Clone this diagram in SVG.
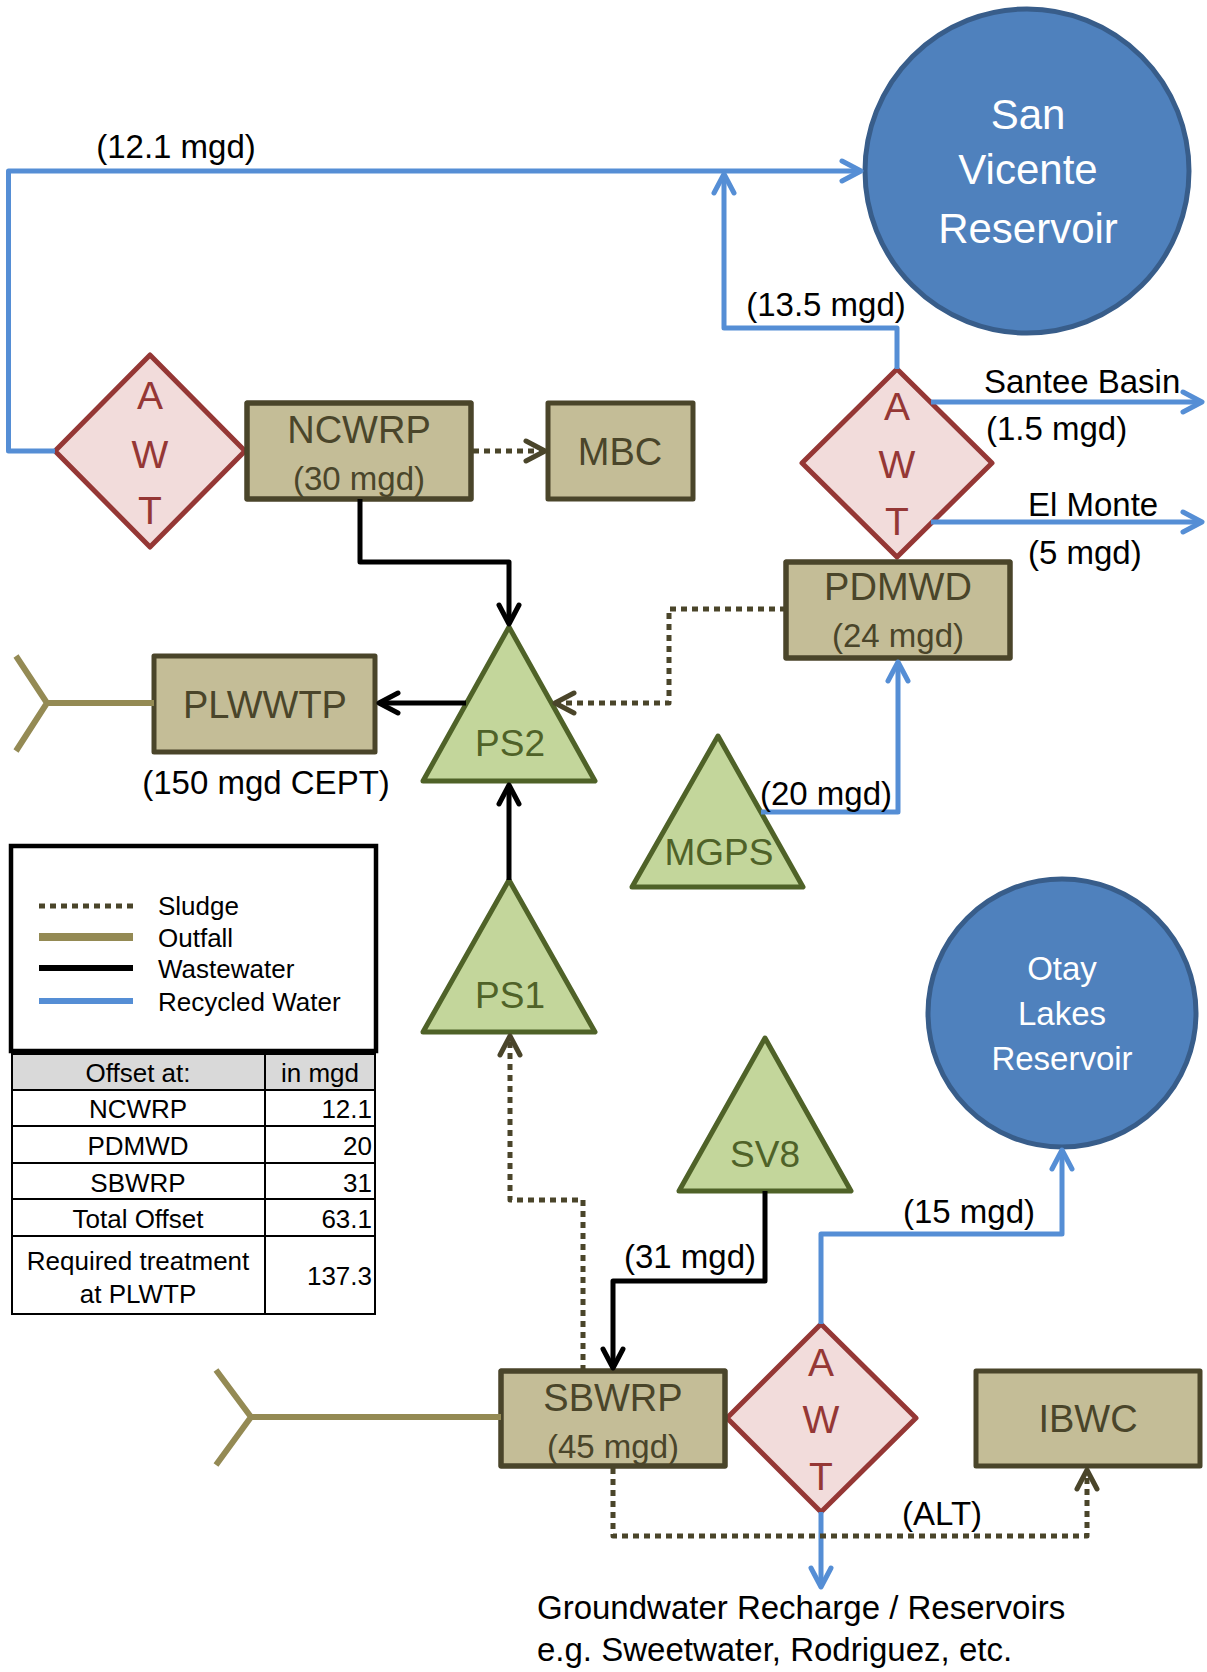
<svg xmlns="http://www.w3.org/2000/svg" width="1207" height="1672" viewBox="0 0 1207 1672">
<style>
text{font-family:'Liberation Sans',Arial,sans-serif}
.lbl{font-size:33px;fill:#000}
.bx{fill:#C4BD97;stroke:#4A452A;stroke-width:5;stroke-linejoin:round}
.bxo{fill:none;stroke:#4A452A;stroke-width:5;stroke-linejoin:round}
.bt{fill:#4A452A;font-size:38px;text-anchor:middle}
.bs{fill:#4A452A;font-size:33px;text-anchor:middle}
.tri{fill:#C3D69B;stroke:#4F6228;stroke-width:5;stroke-linejoin:round}
.tt{fill:#4F6228;font-size:37px;text-anchor:middle}
.dia{fill:#F2DCDB;stroke:#953735;stroke-width:5;stroke-linejoin:round}
.dt{fill:#953735;font-size:39px;text-anchor:middle}
.res{fill:#4F81BD;stroke:#385D8A;stroke-width:5}
.rt{fill:#fff;text-anchor:middle}
.c{fill:none;stroke-width:5;stroke-linejoin:round}
.blue{stroke:#558ED5}
.ww{stroke:#000}
.sl{stroke:#4A452A;stroke-dasharray:6 5}
.of{fill:none;stroke:#948A54;stroke-width:6}
.leg{font-size:26px;fill:#000}
.tb{font-size:26px;fill:#000}
.grid{fill:none;stroke:#000;stroke-width:2}
</style>
<defs>
<marker id="aBlue" markerUnits="userSpaceOnUse" orient="auto" refX="0" refY="0" markerWidth="30" markerHeight="30" overflow="visible">
<path d="M-19,-10 L0,0 L-19,10" fill="none" stroke="#558ED5" stroke-width="5" stroke-linecap="round" stroke-linejoin="round"/>
</marker>
<marker id="aBlack" markerUnits="userSpaceOnUse" orient="auto" refX="0" refY="0" markerWidth="30" markerHeight="30" overflow="visible">
<path d="M-19,-10 L0,0 L-19,10" fill="none" stroke="#000" stroke-width="5" stroke-linecap="round" stroke-linejoin="round"/>
</marker>
<marker id="aSl" markerUnits="userSpaceOnUse" orient="auto" refX="0" refY="0" markerWidth="30" markerHeight="30" overflow="visible">
<path d="M-19,-10 L0,0 L-19,10" fill="none" stroke="#4A452A" stroke-width="5" stroke-linecap="round" stroke-linejoin="round"/>
</marker>
</defs>
<rect width="1207" height="1672" fill="#fff"/>

<g id="sanvicente">
<circle class="res" cx="1027" cy="171" r="162"/>
<text class="rt" x="1028" y="129" font-size="42">San</text>
<text class="rt" x="1028" y="184" font-size="42">Vicente</text>
<text class="rt" x="1028" y="243" font-size="42">Reservoir</text>
</g>

<g id="otay">
<circle class="res" cx="1062" cy="1013" r="134"/>
<text class="rt" x="1062" y="980" font-size="33">Otay</text>
<text class="rt" x="1062" y="1025" font-size="33">Lakes</text>
<text class="rt" x="1062" y="1070" font-size="33">Reservoir</text>
</g>

<g id="awt-ncwrp">
<polygon class="dia" points="150,355 245,451 150,547 55,451"/>
<text class="dt" x="150" y="409">A</text>
<text class="dt" x="150" y="468">W</text>
<text class="dt" x="150" y="524">T</text>
</g>

<g id="awt-pdmwd">
<polygon class="dia" points="897,369 992,463 897,557 802,463"/>
<text class="dt" x="897" y="420">A</text>
<text class="dt" x="897" y="478">W</text>
<text class="dt" x="897" y="535">T</text>
</g>

<g id="awt-sbwrp">
<polygon class="dia" points="821,1324 916,1418 821,1512 727,1418"/>
<text class="dt" x="821" y="1376">A</text>
<text class="dt" x="821" y="1433">W</text>
<text class="dt" x="821" y="1490">T</text>
</g>

<g id="ncwrp">
<rect class="bx" x="247" y="403" width="224" height="96"/>
<text class="bt" x="359" y="443">NCWRP</text>
<text class="bs" x="359" y="490">(30 mgd)</text>
<rect class="bxo" x="247" y="403" width="224" height="96"/>
</g>

<g id="mbc">
<rect class="bx" x="548" y="403" width="145" height="96"/>
<text class="bt" x="620" y="465">MBC</text>
</g>

<g id="pdmwd">
<rect class="bx" x="786" y="562" width="224" height="96"/>
<text class="bt" x="898" y="600">PDMWD</text>
<text class="bs" x="898" y="647">(24 mgd)</text>
<rect class="bxo" x="786" y="562" width="224" height="96"/>
</g>

<g id="plwwtp">
<rect class="bx" x="154" y="656" width="221" height="96"/>
<text class="bt" x="265" y="718">PLWWTP</text>
</g>

<g id="sbwrp">
<rect class="bx" x="501" y="1371" width="224" height="95"/>
<text class="bt" x="613" y="1411">SBWRP</text>
<text class="bs" x="613" y="1458">(45 mgd)</text>
<rect class="bxo" x="501" y="1371" width="224" height="95"/>
</g>

<g id="ibwc">
<rect class="bx" x="976" y="1371" width="224" height="95"/>
<text class="bt" x="1088" y="1432">IBWC</text>
</g>

<g id="ps2">
<polygon class="tri" points="509,627 595,781 423,781"/>
<text class="tt" x="510" y="756">PS2</text>
</g>

<g id="ps1">
<polygon class="tri" points="509,880 595,1032 423,1032"/>
<text class="tt" x="510" y="1008">PS1</text>
</g>

<g id="mgps">
<polygon class="tri" points="718,736 803,887 632,887"/>
<text class="tt" x="719" y="865">MGPS</text>
</g>

<g id="sv8">
<polygon class="tri" points="765,1038 851,1191 679,1191"/>
<text class="tt" x="765" y="1167">SV8</text>
</g>

<g id="connectors">
<path class="c blue" d="M55,451 H8.5 V171 H861" marker-end="url(#aBlue)"/>
<path class="c blue" d="M897,369 V328 H724 V174" marker-end="url(#aBlue)"/>
<path class="c blue" d="M931,402 H1202" marker-end="url(#aBlue)"/>
<path class="c blue" d="M931,522 H1202" marker-end="url(#aBlue)"/>
<path class="c blue" d="M761,812 H898 V662" marker-end="url(#aBlue)"/>
<path class="c blue" d="M821,1324 V1234 H1062 V1150" marker-end="url(#aBlue)"/>
<path class="c blue" d="M821,1512 V1587" marker-end="url(#aBlue)"/>
<path class="c ww" d="M360,499 V562 H509 V624" marker-end="url(#aBlack)"/>
<path class="c ww" d="M466,703 H379" marker-end="url(#aBlack)"/>
<path class="c ww" d="M509,880 V785" marker-end="url(#aBlack)"/>
<path class="c ww" d="M765,1191 V1281 H613 V1368" marker-end="url(#aBlack)"/>
<path class="c sl" d="M473,451 H545" marker-end="url(#aSl)"/>
<path class="c sl" d="M786,609 H669 V703 H555" marker-end="url(#aSl)"/>
<path class="c sl" d="M583,1371 V1200 H510 V1036" marker-end="url(#aSl)"/>
<path class="c sl" d="M613,1468 V1536 H1087 V1470" marker-end="url(#aSl)"/>
<path class="of" d="M154,703 H47 M16,656 L47,703 L16,751"/>
<path class="of" d="M501,1417 H251 M216,1370 L251,1417 L216,1465"/>
</g>

<g id="labels">
<text class="lbl" x="176" y="158" text-anchor="middle">(12.1 mgd)</text>
<text class="lbl" x="826" y="316" text-anchor="middle">(13.5 mgd)</text>
<text class="lbl" x="984" y="393" font-size="30">Santee Basin</text>
<text class="lbl" x="986" y="440">(1.5 mgd)</text>
<text class="lbl" x="1028" y="516">El Monte</text>
<text class="lbl" x="1028" y="564">(5 mgd)</text>
<text class="lbl" x="266" y="794" text-anchor="middle" font-size="31">(150 mgd CEPT)</text>
<text class="lbl" x="760" y="805">(20 mgd)</text>
<text class="lbl" x="624" y="1268">(31 mgd)</text>
<text class="lbl" x="903" y="1223">(15 mgd)</text>
<text class="lbl" x="902" y="1525" font-size="30">(ALT)</text>
<text class="lbl" x="537" y="1619">Groundwater Recharge / Reservoirs</text>
<text class="lbl" x="537" y="1661">e.g. Sweetwater, Rodriguez, etc.</text>
</g>

<g id="legend">
<rect x="11" y="846" width="365" height="205" fill="#fff" stroke="#000" stroke-width="4.5"/>
<line x1="39" y1="906" x2="133" y2="906" class="c sl"/>
<line x1="39" y1="937" x2="133" y2="937" stroke="#948A54" stroke-width="8"/>
<line x1="39" y1="968" x2="133" y2="968" stroke="#000" stroke-width="6"/>
<line x1="39" y1="1001" x2="133" y2="1001" stroke="#558ED5" stroke-width="6"/>
<text class="leg" x="158" y="915">Sludge</text>
<text class="leg" x="158" y="947">Outfall</text>
<text class="leg" x="158" y="978">Wastewater</text>
<text class="leg" x="158" y="1011">Recycled Water</text>
</g>

<g id="table">
<rect x="12" y="1054" width="363" height="36" fill="#D9D9D9"/>
<rect class="grid" x="12" y="1054" width="363" height="260"/>
<path class="grid" d="M12,1090 H375 M12,1126 H375 M12,1163 H375 M12,1199 H375 M12,1236 H375 M265,1054 V1314"/>
<text class="tb" x="138" y="1082" text-anchor="middle">Offset at:</text>
<text class="tb" x="320" y="1082" text-anchor="middle">in mgd</text>
<text class="tb" x="138" y="1118" text-anchor="middle">NCWRP</text>
<text class="tb" x="138" y="1155" text-anchor="middle">PDMWD</text>
<text class="tb" x="138" y="1192" text-anchor="middle">SBWRP</text>
<text class="tb" x="138" y="1228" text-anchor="middle">Total Offset</text>
<text class="tb" x="138" y="1270" text-anchor="middle">Required treatment</text>
<text class="tb" x="138" y="1303" text-anchor="middle">at PLWTP</text>
<text class="tb" x="372" y="1118" text-anchor="end">12.1</text>
<text class="tb" x="372" y="1155" text-anchor="end">20</text>
<text class="tb" x="372" y="1192" text-anchor="end">31</text>
<text class="tb" x="372" y="1228" text-anchor="end">63.1</text>
<text class="tb" x="372" y="1285" text-anchor="end">137.3</text>
</g>
</svg>
